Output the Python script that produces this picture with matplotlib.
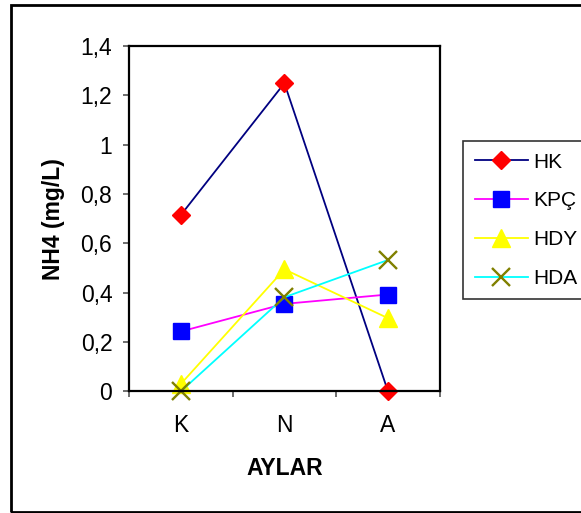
import matplotlib
matplotlib.use("Agg")
import matplotlib.pyplot as plt
from matplotlib.patches import Rectangle
from matplotlib.ticker import FuncFormatter, FixedLocator

months = ["K", "N", "A"]
hk = [0.715, 1.25, 0.0]
kpc = [0.243, 0.355, 0.393]
hdy = [0.03, 0.495, 0.297]
hda = [0.0, 0.382, 0.533]

plt.rc("font", family="Liberation Sans")
plt.rc("font", size=16.5)

fig = plt.figure(figsize=(5.81, 5.13), dpi=100)
ax = fig.add_axes([0.222, 0.237, 0.535, 0.673])

x = range(len(months))
ax.plot(x, hk, color="#000080", lw=1.3, marker="D", ms=9.5, mfc="red", mec="red", label="HK", clip_on=False)
ax.plot(x, kpc, color="#FF00FF", lw=1.3, marker="s", ms=11, mfc="blue", mec="blue", label="KPÇ", clip_on=False)
ax.plot(x, hdy, color="#FFFF00", lw=1.3, marker="^", ms=12.5, mfc="#FFFF00", mec="#FFFF00", label="HDY", clip_on=False)
ax.plot(x, hda, color="#00FFFF", lw=1.3, marker="x", ms=13, mew=1.7, mec="#808000", label="HDA", clip_on=False)

ax.set_xlim(-0.5, 2.5)
ax.set_ylim(0, 1.4)
ax.set_yticks([0, 0.2, 0.4, 0.6, 0.8, 1.0, 1.2, 1.4])
ax.yaxis.set_major_formatter(FuncFormatter(lambda v, p: f"{v:g}".replace(".", ",")))
ax.set_xticks(list(x))
ax.set_xticklabels(months)
ax.xaxis.set_minor_locator(FixedLocator([-0.5, 0.5, 1.5, 2.5]))
ax.tick_params(axis="x", which="major", length=0, pad=16)
ax.tick_params(axis="x", which="minor", length=4, width=1.2, direction="out", color="#555555")
ax.tick_params(axis="y", length=4, width=1.2, direction="out", pad=8, color="#555555")

for s in ax.spines.values():
    s.set_linewidth(1.6)

ax.set_ylabel("NH4 (mg/L)", fontweight="bold")
ax.yaxis.set_label_coords(-0.205, 0.5)
ax.set_xlabel("AYLAR", fontweight="bold")
ax.xaxis.set_label_coords(0.5, -0.19)

leg = fig.legend(loc="upper left", bbox_to_anchor=(0.797, 0.725), borderaxespad=0,
                 frameon=True, fancybox=False, edgecolor="black", handlelength=2.55,
                 handletextpad=0.28, labelspacing=0.95, borderpad=0.55, fontsize=15)
leg.get_frame().set_linewidth(1.2)

fig.patches.append(Rectangle((11 / 581, 1 / 513), 1.0, 1 - 6 / 513, transform=fig.transFigure,
                             fill=False, edgecolor="black", lw=2, clip_on=False))

fig.savefig("out.png", dpi=100)
